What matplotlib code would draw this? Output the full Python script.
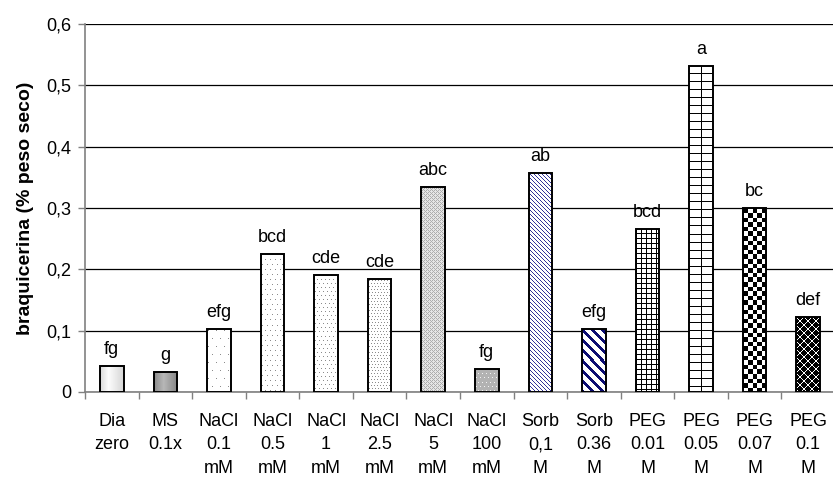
import numpy as np
import matplotlib
matplotlib.use("Agg")
import matplotlib.pyplot as plt

plt.rcParams['font.family'] = ['Liberation Sans', 'DejaVu Sans']

categories = ["Dia\nzero", "MS\n0.1x", "NaCl\n0.1\nmM", "NaCl\n0.5\nmM", "NaCl\n1\nmM",
              "NaCl\n2.5\nmM", "NaCl\n5\nmM", "NaCl\n100\nmM", "Sorb\n0,1\nM", "Sorb\n0.36\nM",
              "PEG\n0.01\nM", "PEG\n0.05\nM", "PEG\n0.07\nM", "PEG\n0.1\nM"]
values = [0.043, 0.033, 0.102, 0.225, 0.191, 0.184, 0.334, 0.038, 0.357, 0.103,
          0.266, 0.532, 0.300, 0.122]
letters = ["fg", "g", "efg", "bcd", "cde", "cde", "abc", "fg", "ab", "efg",
           "bcd", "a", "bc", "def"]
yticks = [0, 0.1, 0.2, 0.3, 0.4, 0.5, 0.6]
ytick_labels = ["0", "0,1", "0,2", "0,3", "0,4", "0,5", "0,6"]
patterns = ["grad_light", "grad_dark", "dots8", "dots5", "dots4", "dots3", "gray_mesh",
            "gray_spots", "thin_diag", "thick_diag", "small_grid", "big_grid",
            "checker", "diamonds"]

W, H = 833, 480
fig = plt.figure(figsize=(W / 100, H / 100), dpi=100)
ax = fig.add_axes([85 / W, 1 - 392 / H, (835 - 85) / W, (392 - 24) / H])
ax.set_xlim(-0.5, len(categories) - 0.5)
ax.set_ylim(0, 0.6)


def make_pattern(kind, h, w):
    ii, jj = np.mgrid[0:h, 0:w]
    img = np.ones((h, w, 3))
    def setc(mask, c):
        img[mask] = c
    if kind in ("grad_light", "grad_dark"):
        t = jj / max(w - 1, 1)
        if kind == "grad_light":
            prof = np.interp(t, [0, 0.35, 1], [0.86, 0.99, 0.84])
        else:
            prof = np.interp(t, [0, 0.4, 1], [0.55, 0.72, 0.52])
        img = np.dstack([prof, prof, prof])
    elif kind.startswith("dots"):
        p = int(kind[4:])
        off = (ii // p) % 2 * (p // 2)
        mask = ((ii % p) == 1) & (((jj + off) % p) == 1)
        setc(mask, (0.55, 0.55, 0.55))
    elif kind == "gray_mesh":
        img[:] = 0.9
        mask = ((ii + jj) % 4 == 0) | ((ii - jj) % 4 == 0)
        setc(mask, (0.68, 0.68, 0.68))
    elif kind == "gray_spots":
        img[:] = 0.7
        mask = ((ii % 4) == 1) & (((jj + (ii // 4) % 2 * 2) % 4) == 1)
        setc(mask, (0.95, 0.95, 0.95))
    elif kind == "thin_diag":
        mask = ((ii - jj) % 4) == 0
        setc(mask, (0.2, 0.2, 0.6))
    elif kind == "thick_diag":
        mask = ((ii - jj) % 10) < 4
        setc(mask, (0.05, 0.05, 0.45))
    elif kind == "small_grid":
        mask = ((ii % 5) == 0) | ((jj % 5) == 0)
        setc(mask, (0, 0, 0))
    elif kind == "big_grid":
        mask = ((ii % 8) == 0) | (jj == w // 2)
        setc(mask, (0, 0, 0))
    elif kind == "checker":
        s = 4.6
        mask = ((np.floor(ii / s) + np.floor(jj / s)) % 2) == 0
        setc(mask, (0, 0, 0))
    elif kind == "diamonds":
        p = 8.0
        a = (ii + 0.5) % p - p / 2
        b = (jj + 0.5 + 4) % p - p / 2
        a2 = (ii + 0.5 + p / 2) % p - p / 2
        b2 = (jj + 0.5) % p - p / 2
        mask = (np.abs(a) + np.abs(b) < 3.4) | (np.abs(a2) + np.abs(b2) < 3.4)
        setc(mask, (0, 0, 0))
    return img


x = np.arange(len(categories))
bars = ax.bar(x, values, width=0.44, color="white", edgecolor="none", zorder=3)
for bar, kind in zip(bars, patterns):
    x0, y0 = bar.get_x(), bar.get_y()
    x1, y1 = x0 + bar.get_width(), y0 + bar.get_height()
    (px0, py0), (px1, py1) = ax.transData.transform([(x0, y0), (x1, y1)])
    w = max(int(round(px1 - px0)), 2)
    h = max(int(round(py1 - py0)), 2)
    img = make_pattern(kind, h, w)
    im = ax.imshow(img, extent=(x0, x1, y0, y1), origin="upper", interpolation="nearest",
                   aspect="auto", zorder=3.5)
    im.set_clip_path(bar)
ax.bar(x, values, width=0.44, fill=False, edgecolor="black", linewidth=1.4, zorder=4)

for xi, v, lab in zip(x, values, letters):
    ax.text(xi, v + 0.013, lab, ha="center", va="bottom", fontsize=13)

ax.set_xlim(-0.5, len(categories) - 0.5)
ax.set_ylim(0, 0.6)

ax.set_yticks(yticks)
ax.set_yticklabels(ytick_labels, fontsize=13)
ax.tick_params(axis="y", direction="out", length=5, width=1, color="#808080", pad=5)
ax.yaxis.grid(True, color="black", linewidth=0.9, zorder=0)
ax.set_axisbelow(True)

ax.set_xticks(x)
ax.set_xticklabels(categories, fontsize=13, linespacing=1.5, va="top")
ax.tick_params(axis="x", which="major", length=0, pad=15)
ax.set_xticks(np.arange(len(categories) + 1) - 0.5, minor=True)
ax.tick_params(axis="x", which="minor", direction="out", length=5, width=1, color="#808080")

for s in ["top", "right"]:
    ax.spines[s].set_visible(False)
for s in ["left", "bottom"]:
    ax.spines[s].set_color("#808080")
    ax.spines[s].set_linewidth(1.2)

ax.set_ylabel("braquicerina (% peso seco)", fontsize=14, fontweight="bold")
ax.yaxis.set_label_coords((34 - 85) / 750, 0.5)

fig.savefig("out.png", dpi=100)
